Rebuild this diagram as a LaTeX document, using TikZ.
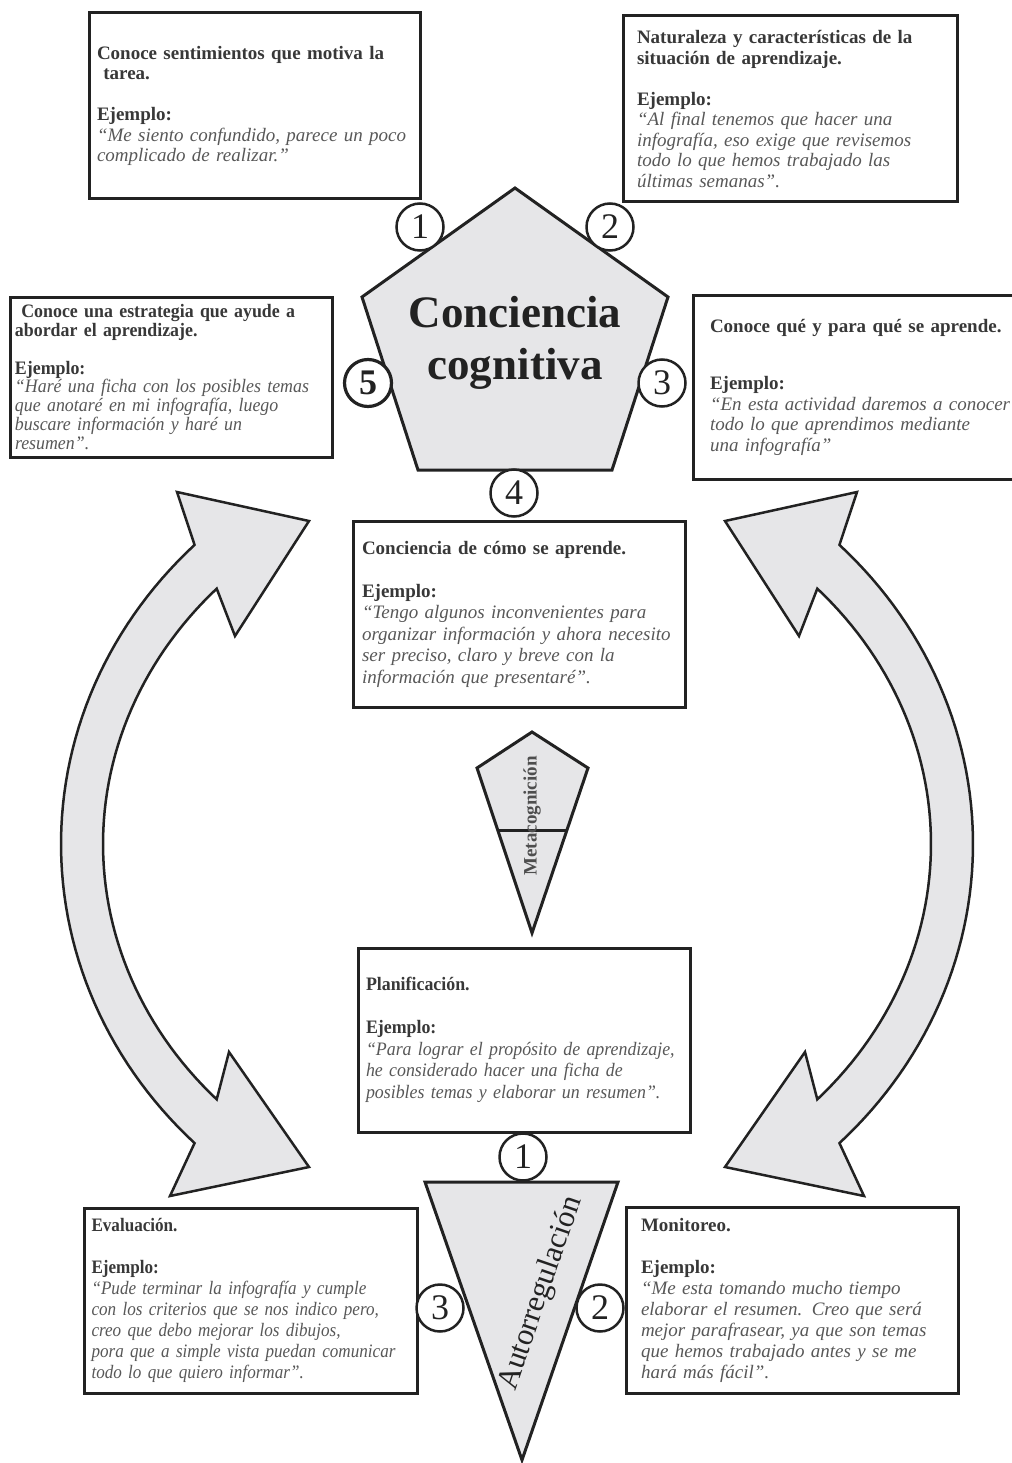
\documentclass[tikz,border=0pt]{standalone}
\usepackage{fontspec}
\setmainfont{Liberation Serif}
\newfontfamily\condserif[FakeStretch=0.94,Ligatures=TeX]{Liberation Serif}
\newfontfamily\narrowserif[FakeStretch=0.9,Ligatures=TeX]{Liberation Serif}
\usepackage{tikz}
\usetikzlibrary{positioning}
\definecolor{inkdark}{HTML}{222222}
\definecolor{shapefill}{HTML}{E6E6E8}
\definecolor{quotegray}{HTML}{585858}
\tikzset{
  ebox/.style={draw=inkdark,fill=white,line width=3pt,align=left,font=\fontsize{19}{20.5}\selectfont,text=inkdark!90},
  numc/.style={circle,draw=inkdark,fill=white,line width=2.5pt,minimum size=47pt,inner sep=0pt,font=\fontsize{36}{36}\selectfont,text=inkdark},
  gshape/.style={draw=inkdark,fill=shapefill,line width=3pt,line join=miter},
  garrow/.style={draw=inkdark,fill=shapefill,line width=2.5pt,line join=miter}
}
\newcommand{\ejemplo}{\textbf{Ejemplo:}}
\newcommand{\cita}[1]{{\itshape\color{quotegray}#1}}

\begin{document}
\begin{tikzpicture}[x=1pt,y=-1pt]
  \useasboundingbox (0,0) rectangle (1011,1463);
  % big curved arrows, left and mirrored right
  \foreach \s in {1,-1}{
    \begin{scope}[shift={(517,0)},xscale=\s]
      \draw[garrow] (-208,521) -- (-340,492)
        -- plot[domain=225:135,samples=60,variable=\t] ({456*cos(\t)},{844+423*sin(\t)})
        -- (-347,1196) -- (-208,1167) -- (-288,1052)
        -- plot[domain=136.5:223.5,samples=60,variable=\t] ({414*cos(\t)},{844+371*sin(\t)})
        -- (-282,636) -- cycle;
    \end{scope}
  }

  % Conciencia cognitiva
  \draw[gshape] (515,188) -- (668,297) -- (612,470) -- (418,470) -- (362,297) -- cycle;
  \node[font=\fontsize{45}{52}\selectfont\bfseries,align=center,text=inkdark] (conc) at (515,343) {Conciencia\\cognitiva};

  % Metacognicion
  \draw[gshape] (532,732) -- (588,768) -- (532,933) -- (477,768) -- cycle;
  \draw[draw=inkdark,line width=3pt] (497.7,830) -- (566.3,830);
  \node[rotate=90,font=\fontsize{19}{19}\selectfont\bfseries,text=inkdark!80] (meta) at (532,816) {Metacognición};

  % Autorregulacion
  \draw[gshape] (425,1182) -- (618,1182) -- (522,1460) -- cycle;
  \node[rotate=71,anchor=base west,inner sep=0pt,font=\fontsize{31}{31}\selectfont,text=inkdark] (auto) at (515,1392) {Autorregulación};

  % boxes
  \node[ebox,minimum width=331pt,minimum height=186pt,text width=315pt] (sent) at (254.5,106)
    {\textbf{Conoce sentimientos que motiva la\\ \ tarea.}\\[20.5pt]\ejemplo\\
     \cita{``Me siento confundido, parece un poco\\ complicado de realizar.''}};
  \node[ebox,minimum width=334pt,minimum height=186pt,text width=306pt] (natur) at (790,109)
    {\textbf{Naturaleza y características de la\\ situación de aprendizaje.}\\[20.5pt]\ejemplo\\
     \cita{``Al final tenemos que hacer una\\ infografía, eso exige que revisemos\\ todo lo que hemos trabajado las\\ últimas semanas''.}};
  \node[ebox,font=\condserif\fontsize{19}{18.8}\selectfont,minimum width=322pt,minimum height=160pt,text width=312pt] (estrat) at (171,377)
    {\textbf{\ Conoce una estrategia que ayude a\\ abordar el aprendizaje.}\\[18.8pt]\ejemplo\\
     \cita{``Haré una ficha con los posibles temas\\ que anotaré en mi infografía, luego\\ buscare información y haré un\\ resumen''.}};
  \node[ebox,minimum width=340pt,minimum height=184pt,text width=306pt] (quees) at (863,387)
    {\textbf{Conoce qué y para qué se aprende.}\\[37pt]\ejemplo\\
     \cita{``En esta actividad daremos a conocer\\ todo lo que aprendimos mediante\\ una infografía''}};
  \node[ebox,font=\fontsize{19}{21.5}\selectfont,minimum width=332pt,minimum height=186pt,text width=314pt] (como) at (519,614)
    {\textbf{Conciencia de cómo se aprende.}\\[21.5pt]\ejemplo\\
     \cita{``Tengo algunos inconvenientes para\\ organizar información y ahora necesito\\ ser preciso, claro y breve con la\\ información que presentaré''.}};
  \node[ebox,font=\condserif\fontsize{19}{21.5}\selectfont,minimum width=332pt,minimum height=184pt,text width=316pt] (plan) at (524,1040)
    {\textbf{Planificación.}\\[21.5pt]\ejemplo\\
     \cita{``Para lograr el propósito de aprendizaje,\\ he considerado hacer una ficha de\\ posibles temas y elaborar un resumen''.}};
  \node[ebox,font=\narrowserif\fontsize{19}{21}\selectfont,minimum width=333pt,minimum height=185pt,text width=318pt] (eval) at (250.5,1300.5)
    {\textbf{Evaluación.}\\[21pt]\ejemplo\\
     \cita{``Pude terminar la infografía y cumple\\ con los criterios que se nos indico pero,\\ creo que debo mejorar los dibujos,\\ pora que a simple vista puedan comunicar\\ todo lo que quiero informar''.}};
  \node[ebox,font=\fontsize{19}{21}\selectfont,minimum width=332pt,minimum height=186pt,text width=302pt] (monit) at (792,1300)
    {\textbf{Monitoreo.}\\[21pt]\ejemplo\\
     \cita{``Me esta tomando mucho tiempo\\ elaborar el resumen. Creo que será\\ mejor parafrasear, ya que son temas\\ que hemos trabajado antes y se me\\ hará más fácil''.}};

  % numbered circles
  \node[numc] (c1) at (420,227) {1};
  \node[numc] (c2) at (610,227) {2};
  \node[numc] (c3) at (662,383) {3};
  \node[numc] (c4) at (514,493) {4};
  \node[numc,line width=3.2pt,font=\fontsize{36}{36}\selectfont\bfseries] (c5) at (368,383) {5};
  \node[numc] (r1) at (523,1157) {1};
  \node[numc] (r2) at (600,1308) {2};
  \node[numc] (r3) at (440,1308) {3};
\end{tikzpicture}
\end{document}
